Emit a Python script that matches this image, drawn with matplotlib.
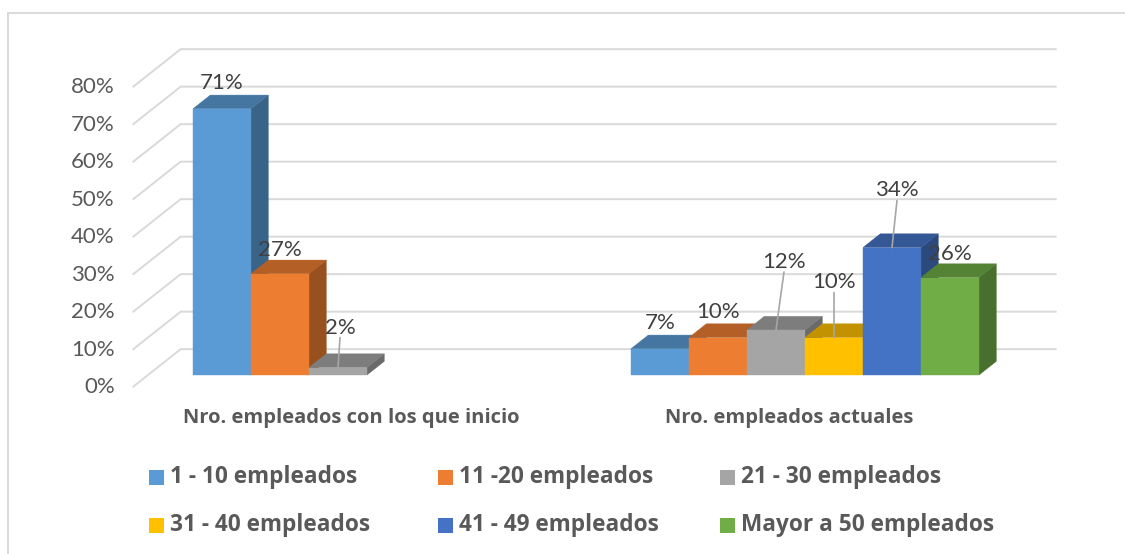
import matplotlib
matplotlib.use("Agg")
import matplotlib.pyplot as plt
from matplotlib.patches import Polygon, Rectangle
from matplotlib.lines import Line2D
import matplotlib.colors as mcolors

# ---------------- data ----------------
categories = ["Nro. empleados con los que inicio", "Nro. empleados actuales"]
series_names = ["1 - 10 empleados", "11 -20 empleados", "21 - 30 empleados",
                "31 - 40 empleados", "41 - 49 empleados", "Mayor a 50 empleados"]
inicio = [71, 27, 2, None, None, None]
actuales = [7, 10, 12, 10, 34, 26]
values = [inicio, actuales]
y_ticks = [0, 10, 20, 30, 40, 50, 60, 70, 80]
y_tick_labels = ["0%", "10%", "20%", "30%", "40%", "50%", "60%", "70%", "80%"]

# ---------------- style ----------------
colors = ["#5B9BD5", "#ED7D31", "#A5A5A5", "#FFC000", "#4472C4", "#70AD47"]
TEXT = "#595959"
LABEL_TEXT = "#404040"
GRID = "#D9D9D9"
plt.rcParams['font.family'] = ['Lato', 'DejaVu Sans']
BOLD_FAMILY = ['Open Sans', 'DejaVu Sans']

# label placement (pixel offsets from bar front-top centre): (dx, rise, leader)
label_style = [
    [(0, 26, False), (0, 24, False), (2, 40, True), None, None, None],
    [(0, 26, False), (0, 25, False), (8, 68, True), (0, 55, True), (5, 57, True), (0, 23.5, False)],
]

W, H = 1125, 554
fig = plt.figure(figsize=(W / 100, H / 100), dpi=100)
ax = fig.add_axes([0, 0, 1, 1])
# pixel x = 367 + 438*x ; pixel y = 375 - 3.75*v
ax.set_xlim((0 - 367) / 438, (W - 367) / 438)
ax.set_ylim((375 - H) / 3.75, 375 / 3.75)
ax.axis("off")

# oblique depth projection
DX, DY = 0.1096, 10.13     # full depth offset in data units
D0, D1 = 0.32, 0.68        # bar front / back depth


def P(x, v, d):
    return (x + (d - D0) * DX, v + (d - D0) * DY)


def shade(c, f):
    r, g, b = mcolors.to_rgb(c)
    return (r * f, g * f, b * f)


# walls / gridlines
xl, xr = -0.5, len(categories) - 0.5
for v in y_ticks:
    pts = [P(xl, v, 0), P(xl, v, 1), P(xr, v, 1)]
    ax.plot([p[0] for p in pts], [p[1] for p in pts], color=GRID, lw=1.4,
            solid_capstyle="butt", zorder=1)

# tick labels
for v, lab in zip(y_ticks, y_tick_labels):
    ax.annotate(lab, xy=P(xl, v, 0), xytext=(-18 * 0.72, 0), textcoords="offset points",
                ha="right", va="center", fontsize=16, color=TEXT)

# bars
n = len(series_names)
w = 58 / 438
for i, vals in enumerate(values):
    for j, v in enumerate(vals):
        if v is None:
            continue
        x0 = i + (j - n / 2) * w
        x1 = x0 + w
        c = colors[j]
        front = [P(x0, 0, D0), P(x1, 0, D0), P(x1, v, D0), P(x0, v, D0)]
        top = [P(x0, v, D0), P(x1, v, D0), P(x1, v, D1), P(x0, v, D1)]
        side = [P(x1, 0, D0), P(x1, v, D0), P(x1, v, D1), P(x1, 0, D1)]
        z = 3 + i * 10 + j
        for poly, col in ((side, shade(c, 0.64)), (top, shade(c, 0.76)), (front, c)):
            ax.add_patch(Polygon(poly, closed=True, facecolor=col, edgecolor=col,
                                 lw=0.3, zorder=z))

# data labels
for i, vals in enumerate(values):
    for j, v in enumerate(vals):
        if v is None:
            continue
        dx, rise, leader = label_style[i][j]
        xc = i + (j - n / 2 + 0.5) * w
        ax.annotate(f"{v}%", xy=(xc, v), xytext=(dx * 0.72, rise * 0.72),
                    textcoords="offset points", ha="center", va="center",
                    fontsize=16, color=LABEL_TEXT, zorder=50)
        if leader:
            ax.annotate("", xy=(xc, v), xytext=(xc + dx / 438, v + (rise - 10) / 3.75),
                        arrowprops=dict(arrowstyle="-", color="#A6A6A6", lw=1.2,
                                        shrinkA=0, shrinkB=0), zorder=49)

# category labels
for i, cat in enumerate(categories):
    ax.annotate(cat, xy=P(i, 0, 0), xytext=(0, -31 * 0.72), textcoords="offset points",
                ha="center", va="center", fontsize=14.5, fontweight="bold", color=TEXT,
                family=BOLD_FAMILY)

# legend (manual, 3 columns x 2 rows)
col_x = [149, 438, 720]
row_y = [477, 525]
for k, (name, c) in enumerate(zip(series_names, colors)):
    r, cidx = divmod(k, 3)
    px, py = col_x[cidx], row_y[r]
    fig.add_artist(Rectangle((px / W, 1 - (py + 7.5) / H), 15 / W, 15 / H,
                             transform=fig.transFigure, facecolor=c, edgecolor="none"))
    fig.text((px + 21) / W, 1 - py / H, name, ha="left", va="center",
             fontsize=16.3, fontweight="bold", color=TEXT, family=BOLD_FAMILY)

# chart border (top and left visible)
fig.add_artist(Line2D([8 / W, 1], [1 - 13 / H, 1 - 13 / H], transform=fig.transFigure,
                      color=GRID, lw=1.4))
fig.add_artist(Line2D([8 / W, 8 / W], [0, 1 - 13 / H], transform=fig.transFigure,
                      color=GRID, lw=1.4))

fig.savefig("out.png", dpi=100, facecolor="white")
